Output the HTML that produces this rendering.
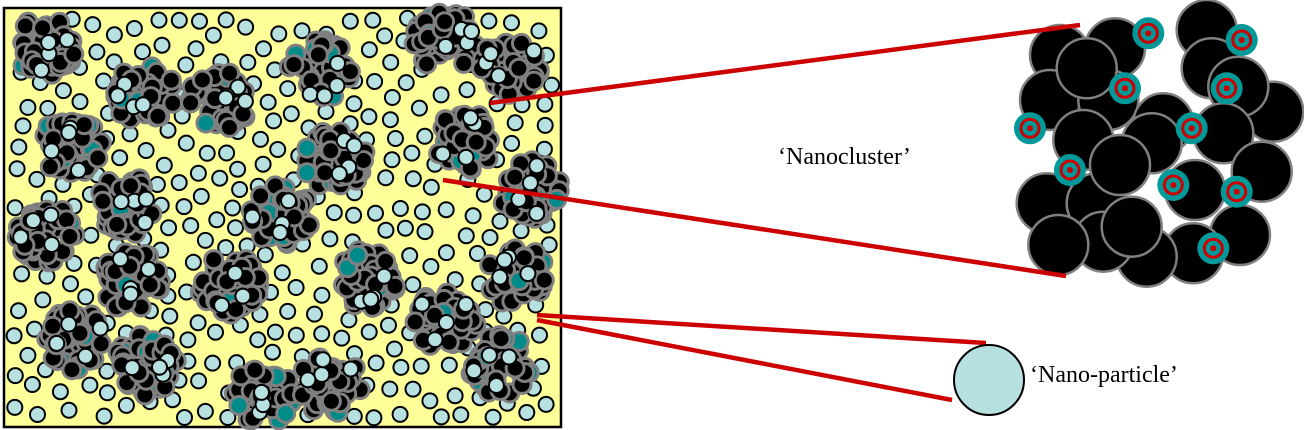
<!DOCTYPE html>
<html><head><meta charset="utf-8">
<style>
html,body{margin:0;padding:0;background:#fff;width:1304px;height:430px;overflow:hidden}
svg{display:block}
text{font-family:"Liberation Serif",serif;font-size:24px;fill:#000}
</style></head>
<body>
<svg id="s" width="1304" height="430" viewBox="0 0 1304 430" xmlns="http://www.w3.org/2000/svg">
<rect x="4" y="8" width="557" height="419" fill="#ffff99" stroke="#000" stroke-width="2.5"/>
<g id="free"></g>
<g id="cl"></g>
<g id="big"></g>
<line x1="490" y1="103" x2="1080" y2="25" stroke="#cc0000" stroke-width="4.5"/>
<line x1="443" y1="180" x2="1066" y2="276" stroke="#cc0000" stroke-width="4.5"/>
<line x1="537" y1="315" x2="986" y2="343" stroke="#cc0000" stroke-width="4.5"/>
<line x1="537" y1="320" x2="952" y2="400" stroke="#cc0000" stroke-width="4.5"/>
<circle cx="989" cy="380" r="35" fill="#b7e1e1" stroke="#000" stroke-width="2"/>
<text x="778" y="164">‘Nanocluster’</text>
<text x="1030" y="382">‘Nano-particle’</text>
</svg>
<script>
var seed=12345;function R(){seed=(seed*1103515245+12345)%2147483648;return seed/2147483648;}
var NS="http://www.w3.org/2000/svg";
function C(g,x,y,r,f,s,w){var c=document.createElementNS(NS,"circle");c.setAttribute("cx",x);c.setAttribute("cy",y);c.setAttribute("r",r);c.setAttribute("fill",f);c.setAttribute("stroke",s);c.setAttribute("stroke-width",w);g.appendChild(c);}
var cls=[[45,45],[145,95],[220,100],[320,70],[445,40],[510,65],[70,145],[465,140],[335,160],[125,205],[280,215],[530,190],[45,235],[130,280],[230,285],[365,280],[515,275],[445,320],[75,340],[145,365],[265,395],[330,385],[500,365]];
var free=document.getElementById("free"),cl=document.getElementById("cl"),big=document.getElementById("big");
var pts=[];
for(var i=0;i<8000&&pts.length<300;i++){var x=14+R()*538,y=18+R()*400,ok=true;
for(var j=0;j<pts.length;j++){var dx=pts[j][0]-x,dy=pts[j][1]-y;if(dx*dx+dy*dy<19*19){ok=false;break;}}
if(ok)for(var k=0;k<cls.length;k++){var dx=cls[k][0]-x,dy=cls[k][1]-y;if(dx*dx+dy*dy<36*36){ok=false;break;}}
if(ok){pts.push([x,y]);C(free,x.toFixed(1),y.toFixed(1),7.5,"#b7e1e1","#000",2);}}
cls.forEach(function(c){for(var i=0;i<45;i++){var a=R()*6.283,d=Math.sqrt(R())*30;
C(cl,(c[0]+Math.cos(a)*d*1.05).toFixed(1),(c[1]+Math.sin(a)*d).toFixed(1),9,R()<0.12?"#008b8b":"#000","#808080",3);}
for(var i=0;i<4;i++){var a=R()*6.283,d=Math.sqrt(R())*28;
C(cl,(c[0]+Math.cos(a)*d).toFixed(1),(c[1]+Math.sin(a)*d).toFixed(1),7.5,"#b7e1e1","#000",2);}});
var bc=[[620,90],[180,165],[345,145],[150,300],[325,300],[260,205],[635,205],[820,335],[715,260],[490,370],[455,430],[250,420],[670,400],[785,515],[585,570],[140,610],[290,610],[360,495],[720,705],[580,760],[440,770],[310,725],[395,680],[175,735]];
bc.forEach(function(b){C(big,(1000+b[0]/3).toFixed(1),(b[1]/3).toFixed(1),30,"#000","#808080",2.5);});
var sp=[[445,100],[725,120],[375,265],[680,265],[90,385],[575,385],[210,510],[520,555],[710,575],[640,745]];
sp.forEach(function(b){var x=1000+b[0]/3,y=b[1]/3;C(big,x.toFixed(1),y.toFixed(1),16,"#009999","none",0);
C(big,x.toFixed(1),y.toFixed(1),9,"none","#cc0000",3);C(big,x.toFixed(1),y.toFixed(1),3,"#cc0000","none",0);});
</script>
</body></html>
